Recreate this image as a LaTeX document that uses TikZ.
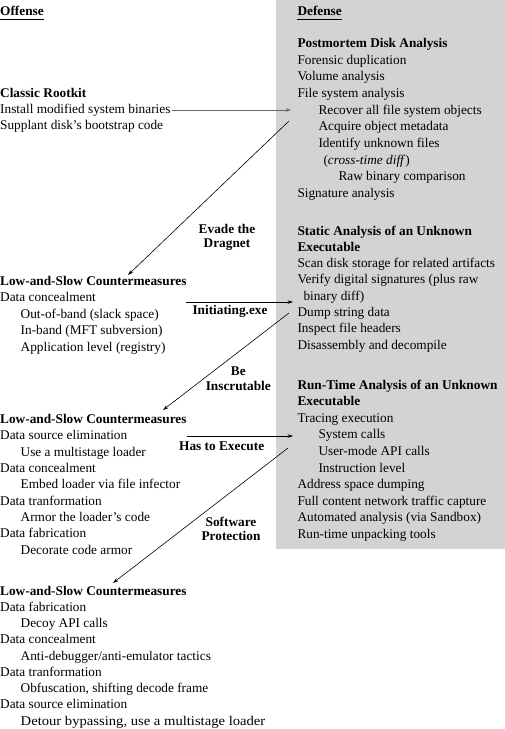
\documentclass[tikz,border=0pt]{standalone}
\usepackage{fontspec}
\setmainfont{Liberation Serif}
\usetikzlibrary{arrows.meta}
\definecolor{panel}{RGB}{211,211,211}
\tikzset{
  txt/.style={anchor=base west, inner sep=0pt, font=\fontsize{13.3}{16}\selectfont},
  hd/.style={txt, font=\fontsize{13.3}{16}\selectfont\bfseries},
  lbl/.style={anchor=base, inner sep=0pt, font=\fontsize{13.3}{16}\selectfont\bfseries},
  conn/.style={-{Stealth[length=5.5pt,width=3.6pt]}, line width=0.6pt, black},
  uline/.style={line width=0.7pt, black},
}
\begin{document}
\begin{tikzpicture}[x=1pt,y=-1pt]
\useasboundingbox (0,0) rectangle (505,729);
\fill[panel] (276,0) rectangle (505,549);

% ---------------- Offense column ----------------
\node[hd] (off) at (0,15) {Offense};
\draw[uline] ([yshift=-4.5pt]off.base west) -- ([yshift=-4.5pt]off.base east);

\node[hd]  (ck)  at (0,97.5)  {Classic Rootkit};
\node[txt] (l1a) at (0,113.5) {Install modified system binaries};
\node[txt] (l1b) at (0,129.5) {Supplant disk's bootstrap code};

\node[hd]  (ls1) at (0,285)     {Low-and-Slow Countermeasures};
\node[txt] (l2a) at (0,301.6)   {Data concealment};
\node[txt] (l2b) at (20.5,318.2){Out-of-band (slack space)};
\node[txt] (l2c) at (20.5,334.8){In-band (MFT subversion)};
\node[txt] (l2d) at (20.5,351.4){Application level (registry)};

\node[hd]  (ls2) at (0,423.3)    {Low-and-Slow Countermeasures};
\node[txt] (l3a) at (0,439.65)   {Data source elimination};
\node[txt] (l3b) at (20.5,456)   {Use a multistage loader};
\node[txt] (l3c) at (0,472.35)   {Data concealment};
\node[txt] (l3d) at (20.5,488.7) {Embed loader via file infector};
\node[txt] (l3e) at (0,505.05)   {Data tranformation};
\node[txt] (l3f) at (20.5,521.4) {Armor the loader's code};
\node[txt] (l3g) at (0,537.75)   {Data fabrication};
\node[txt] (l3h) at (20.5,554.1) {Decorate code armor};

\node[hd]  (ls3) at (0,595)       {Low-and-Slow Countermeasures};
\node[txt] (l4a) at (0,611.25)    {Data fabrication};
\node[txt] (l4b) at (20.5,627.5)  {Decoy API calls};
\node[txt] (l4c) at (0,643.75)    {Data concealment};
\node[txt] (l4d) at (20.5,660)    {Anti-debugger/anti-emulator tactics};
\node[txt] (l4e) at (0,676.25)    {Data tranformation};
\node[txt] (l4f) at (20.5,692.5)  {Obfuscation, shifting decode frame};
\node[txt] (l4g) at (0,708.75)    {Data source elimination};
\node[txt] (l4h) at (20.5,725)    {\scalebox{1.1}[1]{Detour bypassing, use a multistage loader}};

% ---------------- Defense column ----------------
\node[hd] (def) at (297.3,15) {Defense};
\draw[uline] ([yshift=-4.5pt]def.base west) -- ([yshift=-4.5pt]def.base east);

\node[hd]  (pm)  at (297.3,47.3)  {Postmortem Disk Analysis};
\node[txt] (r1a) at (297.3,64)    {Forensic duplication};
\node[txt] (r1b) at (297.3,80.7)  {Volume analysis};
\node[txt] (r1c) at (297.3,97.3)  {File system analysis};
\node[txt] (r1d) at (318.3,114)   {Recover all file system objects};
\node[txt] (r1e) at (318.3,130.7) {Acquire object metadata};
\node[txt] (r1f) at (318.3,147.3) {Identify unknown files};
\node[txt] (r1g) at (323.3,164)   {(\textit{cross-time diff})};
\node[txt] (r1h) at (338.3,180.7) {Raw binary comparison};
\node[txt] (r1i) at (297.3,197.3) {Signature analysis};

\node[hd]  (sa)  at (297.3,235)   {Static Analysis of an Unknown};
\node[hd]  (sa2) at (297.3,251.3) {Executable};
\node[txt] (r2a) at (297.3,267.6) {Scan disk storage for related artifacts};
\node[txt] (r2b) at (297.3,283.9) {Verify digital signatures (plus raw};
\node[txt] (r2c) at (303.3,300.2) {binary diff)};
\node[txt] (r2d) at (297.3,316.5) {Dump string data};
\node[txt] (r2e) at (297.3,332.8) {Inspect file headers};
\node[txt] (r2f) at (297.3,349.1) {Disassembly and decompile};

\node[hd]  (ra)  at (297.3,389)   {Run-Time Analysis of an Unknown};
\node[hd]  (ra2) at (297.3,405.6) {Executable};
\node[txt] (r3a) at (297.3,422.2) {Tracing execution};
\node[txt] (r3b) at (318.3,438.8) {System calls};
\node[txt] (r3c) at (318.3,455.4) {User-mode API calls};
\node[txt] (r3d) at (318.3,472)   {Instruction level};
\node[txt] (r3e) at (297.3,488.6) {Address space dumping};
\node[txt] (r3f) at (297.3,505.2) {Full content network traffic capture};
\node[txt] (r3g) at (297.3,521.8) {Automated analysis (via Sandbox)};
\node[txt] (r3h) at (297.3,538.4) {Run-time unpacking tools};

% ---------------- Connector labels ----------------
\node[lbl] (e1) at (227,233)   {Evade the};
\node[lbl] (e2) at (227,247)   {Dragnet};
\node[lbl] (ie) at (230,314.5) {Initiating.exe};
\node[lbl] (b1) at (238.3,375.5) {Be};
\node[lbl] (b2) at (238.3,390)   {Inscrutable};
\node[lbl] (he) at (221.7,450)   {Has to Execute};
\node[lbl] (s1) at (231,526)     {Software};
\node[lbl] (s2) at (231,540.5)   {Protection};

% ---------------- Connectors ----------------
\coordinate (a1s) at (172,110);   \coordinate (a1e) at (291,110);
\coordinate (a2s) at (289,121);   \coordinate (a2e) at (128,275);
\coordinate (a3s) at (186,302);   \coordinate (a3e) at (293,302);
\coordinate (a4s) at (289,313);   \coordinate (a4e) at (163,410);
\coordinate (a5s) at (187,436);   \coordinate (a5e) at (293,436);
\coordinate (a6s) at (288,448);   \coordinate (a6e) at (113,583);

\draw[conn, draw=black!60] (a1s) -- (a1e);
\draw[conn] (a2s) -- (a2e);
\draw[conn] (a3s) -- (a3e);
\draw[conn] (a4s) -- (a4e);
\draw[conn] (a5s) -- (a5e);
\draw[conn] (a6s) -- (a6e);
\end{tikzpicture}
\end{document}
